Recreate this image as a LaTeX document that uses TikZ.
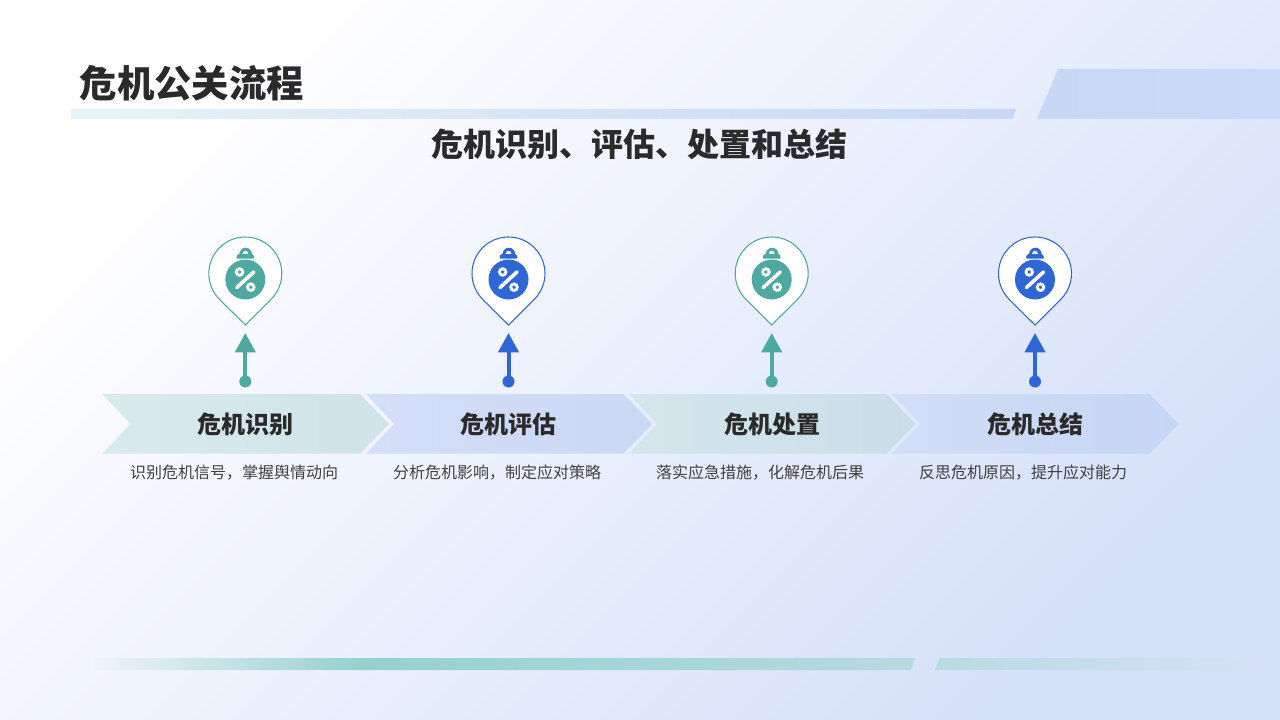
\documentclass[tikz,border=0pt]{standalone}
\usepackage{fontspec}
\setmainfont{Noto Sans CJK SC}
\usetikzlibrary{arrows.meta}
\usetikzlibrary{calc}
\definecolor{tl}{RGB}{78, 169, 160}
\definecolor{bl}{RGB}{47, 102, 214}
\definecolor{ink}{RGB}{42, 42, 42}
\definecolor{inksoft}{RGB}{64, 64, 64}
\definecolor{fadea}{RGB}{240, 243, 252}
\definecolor{fadeb}{RGB}{148, 209, 204}
\definecolor{fadec}{RGB}{183, 218, 226}
\pgfdeclarehorizontalshading{barfade}{100bp}{color(0bp)=(fadea); color(25bp)=(fadea); color(41.4bp)=(fadeb); color(75bp)=(fadec); color(100bp)=(fadec)}
\tikzset{
    pinshape/.style={draw=#1, fill=white, line width=0.8pt},
    stem/.style={draw=#1, line width=3pt, -{Triangle[length=14.5pt, width=15pt, fill=#1]}, shorten <=-2pt},
    dot/.style={circle, fill=#1, inner sep=0pt, minimum size=9pt},
    chevlabel/.style={font=\fontsize{18}{22}\selectfont\bfseries, text=ink},
    desc/.style={font=\fontsize{12}{15}\selectfont, text=inksoft},
}
% pin, arrow and dot: x, colour, name
\newcommand{\pinmark}[3]{
    \begin{scope}[shift={(#1,0)}]
        \draw[pinshape=#2] (0,325) -- ($(0,273.5)+(133.7:36.5)$) arc (133.7:406.3:36.5) -- cycle;
        \fill[#2] (0,279.5) circle (20);
        \fill[#2, rounded corners=1pt] (-9.5,258.6) -- (-7.5,253.8) -- (7.5,253.8) -- (9.5,258.6) -- cycle;
        \fill[#2] (-6,254.5) arc (180:360:6.4 and 6.8) -- cycle;
        \fill[white] (-2.8,253.8) arc (180:360:2.8 and 3) -- cycle;
        \draw[white, line width=2.7pt, line cap=round] (-8.5,287.5) -- (8.5,272);
        \draw[white, line width=2.1pt] (-5.8,272) circle (3.3) (5.5,287.2) circle (3.3);
        \node[dot=#2] (#3dot) at (0,381.5) {};
        \coordinate (#3tip) at (0,333);
        \draw[stem=#2] (#3dot) -- (#3tip);
    \end{scope}
}
% chevron: left x, left colour, right colour
\newcommand{\chevron}[3]{
    \shade[left color=#2, right color=#3] (#1,394) -- (#1+257.5,394) -- (#1+286.5,424) -- (#1+257.5,453.5) -- (#1,453.5) -- (#1+28,424) -- cycle;
}

\begin{document}
\begin{tikzpicture}[x=0.75pt, y=-0.75pt]
        \path[use as bounding box] (0,0) rectangle (1280,720);
        \shade[left color=white, right color={rgb,255:red,213;green,224;blue,249}, shading angle=45] (0,0) rectangle (1280,720);
        % top bars
        \shade[left color={rgb,255:red,230;green,243;blue,246}, right color={rgb,255:red,200;green,215;blue,245}] (71,109) -- (1016,109) -- (1013,119) -- (71,119) -- cycle;
        \shade[left color={rgb,255:red,200;green,215;blue,244}, right color={rgb,255:red,203;green,218;blue,246}] (1058,69) -- (1280,69) -- (1280,119) -- (1037,119) -- cycle;
        % bottom bars
        \shade[shading=barfade] (95,658) -- (915,658) -- (911,670) -- (95,670) -- cycle;
        \shade[left color={rgb,255:red,184;green,218;blue,226}, right color={rgb,255:red,214;green,225;blue,248}] (940,658) -- (1260,658) -- (1260,670) -- (935,670) -- cycle;
        % titles
        \node[font=\fontsize{28}{32}\selectfont\bfseries, text=ink, anchor=west] (title) at (75,83) {危机公关流程};
        \node[font=\fontsize{24}{28}\selectfont\bfseries, text=ink] (subtitle) at (639,144) {危机识别、评估、处置和总结};
        % chevrons
        \chevron{102.5}{{rgb,255:red,217;green,234;blue,236}}{{rgb,255:red,207;green,227;blue,232}}
        \chevron{366}{{rgb,255:red,212;green,222;blue,247}}{{rgb,255:red,202;green,216;blue,245}}
        \chevron{629}{{rgb,255:red,213;green,230;blue,236}}{{rgb,255:red,202;green,222;blue,232}}
        \chevron{892}{{rgb,255:red,210;green,221;blue,247}}{{rgb,255:red,198;green,213;blue,244}}
        \node[chevlabel] (riska) at (245,424) {危机识别};
        \node[chevlabel] (riskb) at (508,424) {危机评估};
        \node[chevlabel] (riskc) at (772,424) {危机处置};
        \node[chevlabel] (riskd) at (1035,424) {危机总结};
        \node[desc] (texta) at (234,472.5) {识别危机信号，掌握舆情动向};
        \node[desc] (textb) at (497,472.5) {分析危机影响，制定应对策略};
        \node[desc] (textc) at (760,472.5) {落实应急措施，化解危机后果};
        \node[desc] (textd) at (1023,472.5) {反思危机原因，提升应对能力};
        % pins
        \pinmark{245.3}{tl}{a}
        \pinmark{508.5}{bl}{b}
        \pinmark{771.7}{tl}{c}
        \pinmark{1035}{bl}{d}
    \end{tikzpicture}
\end{document}
